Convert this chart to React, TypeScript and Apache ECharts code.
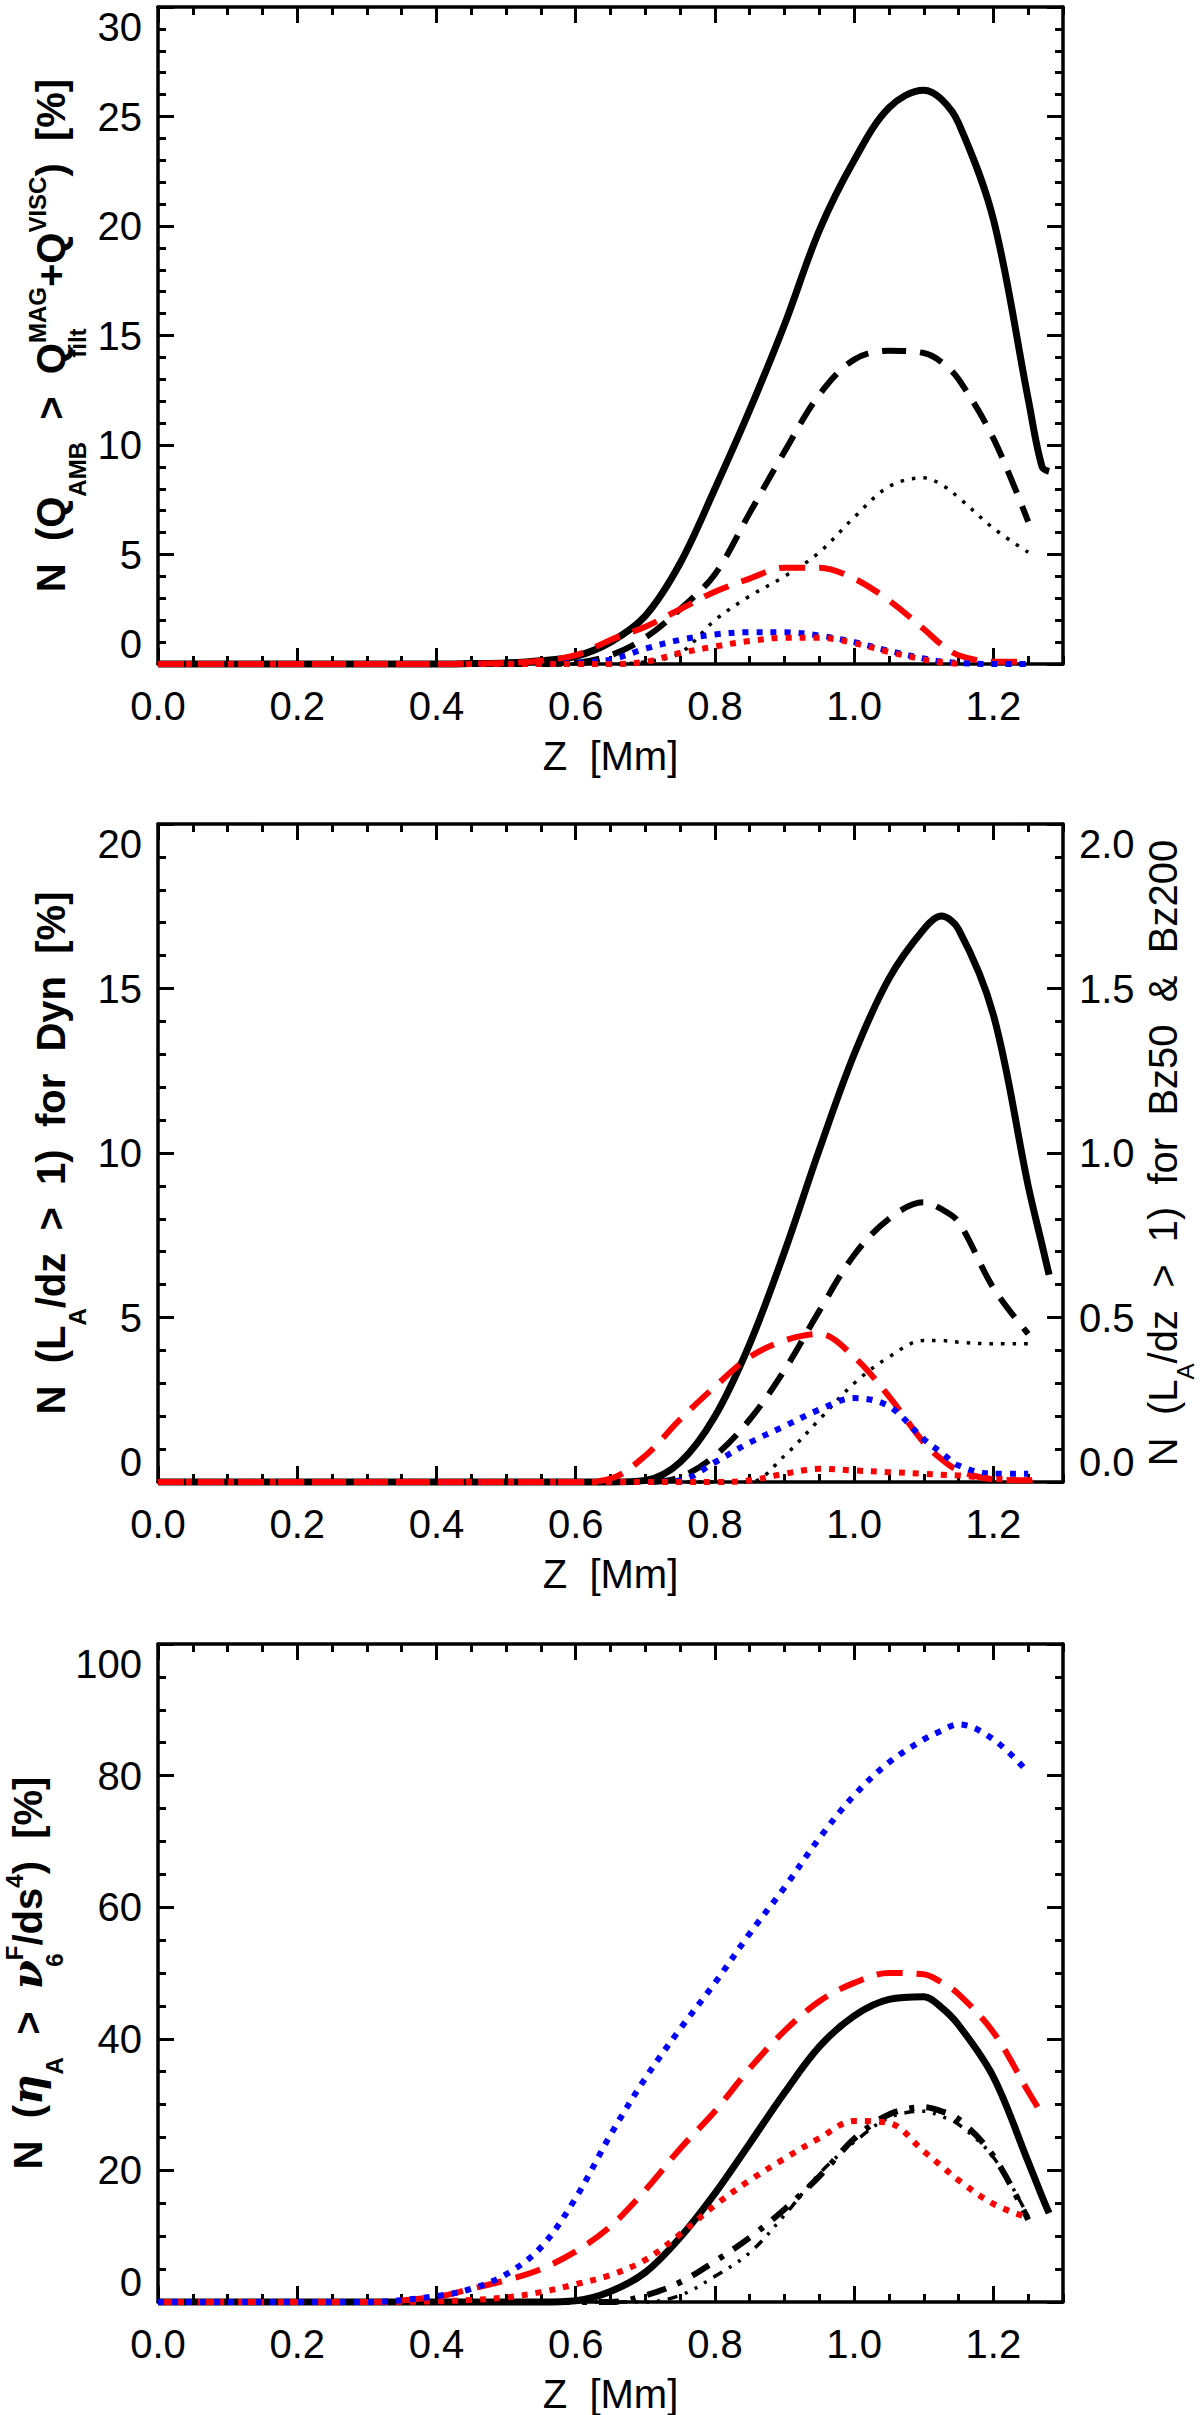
import React, { useEffect, useRef } from 'react';
import * as echarts from 'echarts';

// heights [Mm]
const Z = [0, 0.1, 0.2, 0.3, 0.4, 0.45, 0.5, 0.55, 0.6, 0.65, 0.7, 0.75, 0.8, 0.85, 0.9, 0.95, 1.0, 1.05, 1.1, 1.125, 1.15, 1.2, 1.25, 1.27, 1.28];

// panel 1: N(Q_AMB > Q_filt^MAG + Q^VISC) [%]
const P1_SOLID = [0, 0, 0, 0, 0, 0.02, 0.05, 0.15, 0.35, 1.0, 2.2, 4.6, 8.0, 11.6, 15.5, 19.8, 23.0, 25.4, 26.2, 25.8, 24.7, 20.3, 12.1, 9.0, 8.8];
const P1_DASH = [0, 0, 0, 0, 0, 0, 0, 0, 0.05, 0.4, 1.2, 2.5, 4.1, 6.9, 9.7, 12.3, 13.9, 14.3, 14.2, 13.8, 13.0, 10.3, 6.5, null, null];
const P1_DOT = [0, 0, 0, 0, 0, 0, 0, 0, 0, 0, 0.1, 0.5, 2.0, 3.1, 4.0, 5.1, 6.7, 8.1, 8.5, 8.2, 7.6, 6.2, 5.1, null, null];
const P1_RED_DASH = [0, 0, 0, 0, 0, 0.02, 0.05, 0.15, 0.4, 1.1, 1.7, 2.5, 3.3, 3.9, 4.4, 4.4, 3.9, 2.9, 1.6, 0.9, 0.4, 0.1, 0.1, null, null];
const P1_BLUE_DOT = [0, 0, 0, 0, 0, 0, 0, 0, 0.05, 0.2, 0.7, 1.1, 1.35, 1.45, 1.45, 1.3, 1.0, 0.6, 0.25, 0.12, 0.05, 0, 0, null, null];
const P1_RED_DOT = [0, 0, 0, 0, 0, 0, 0, 0, 0, 0, 0.1, 0.5, 0.8, 1.05, 1.2, 1.2, 0.95, 0.55, 0.2, 0.08, 0, null, null, null, null];

// panel 2: N(L_A/dz > 1), Dyn on the left axis, Bz50 & Bz200 on the right axis
const P2_SOLID = [0, 0, 0, 0, 0, 0, 0, 0, 0, 0, 0.05, 0.6, 2.0, 4.2, 7.0, 10.1, 13.0, 15.3, 16.8, 17.2, 16.8, 14.2, 9.0, 7.2, 6.3];
const P2_DASH = [0, 0, 0, 0, 0, 0, 0, 0, 0, 0, 0, 0.15, 0.8, 1.9, 3.4, 5.2, 6.9, 8.0, 8.5, 8.3, 7.9, 5.9, 4.5, null, null];
const P2_DOT = [0, 0, 0, 0, 0, 0, 0, 0, 0, 0, 0, 0, 0, 0, 0.8, 1.9, 3.0, 3.8, 4.3, 4.3, 4.25, 4.2, 4.2, null, null];
const P2_RED_DASH = [0, 0, 0, 0, 0, 0, 0, 0, 0, 0.01, 0.08, 0.19, 0.29, 0.38, 0.43, 0.45, 0.38, 0.26, 0.12, 0.07, 0.035, 0.008, 0.005, 0.015, null];
const P2_BLUE_DOT = [0, 0, 0, 0, 0, 0, 0, 0, 0, 0, 0, 0.005, 0.06, 0.12, 0.17, 0.22, 0.255, 0.23, 0.13, 0.09, 0.05, 0.025, 0.025, null, null];
const P2_RED_DOT = [0, 0, 0, 0, 0, 0, 0, 0, 0, 0, 0, 0, 0, 0.005, 0.025, 0.04, 0.035, 0.03, 0.025, 0.022, 0.02, 0.01, 0.005, null, null];

// panel 3: N(eta_A > nu_6^F/ds^4) [%]
const P3_BLUE_DOT = [0, 0, 0, 0, 0.9, 2.0, 4.2, 8.3, 15.8, 25.4, 34, 41.5, 48.5, 56, 63, 70.5, 77, 82, 85.5, 86.8, 87.8, 85.5, 80.5, null, null];
const P3_RED_DASH = [0, 0, 0, 0, 0.8, 2.0, 3.3, 5.0, 7.7, 11.5, 17.0, 23.3, 29, 35.5, 41.2, 45.7, 48.5, 50, 49.8, 48.6, 46.8, 41, 32, 28.5, null];
const P3_SOLID = [0, 0, 0, 0, 0, 0, 0, 0, 0.2, 1.6, 4.5, 9.8, 16.5, 24.1, 31.8, 38.8, 43.5, 46.0, 46.4, 44.8, 42.1, 34.2, 21.3, 16.0, 13.5];
const P3_RED_DOT = [0, 0, 0, 0, 0.1, 0.3, 0.7, 1.5, 2.7, 4.1, 6.4, 10.3, 14.7, 18.5, 21.8, 24.9, 27.5, 27.2, 22.9, 20.7, 18.5, 14.9, 12.8, null, null];
const P3_DASH_DOT = [0, 0, 0, 0, 0, 0, 0, 0, 0, 0, 1.0, 3.0, 6.2, 9.8, 14.1, 19.1, 24.8, 28.5, 29.6, 29.0, 27.8, 22.2, 12.5, null, null];
const P3_DASH_DOT3 = [0, 0, 0, 0, 0, 0, 0, 0, 0, 0, 0, 1.0, 3.9, 7.5, 13.2, 19.5, 24.3, 28.0, 29.0, 28.2, 27.0, 22.0, 13.0, null, null];

// axis ticks
const X_MAJOR = [0, 0.2, 0.4, 0.6, 0.8, 1.0, 1.2];
const Y1_MAJOR = [0, 5, 10, 15, 20, 25, 30];
const Y2_MAJOR = [0, 5, 10, 15, 20];
const Y2R_MAJOR = [0, 0.5, 1.0, 1.5, 2.0];
const Y3_MAJOR = [0, 20, 40, 60, 80, 100];

const FONT = '"Liberation Sans", Arial, Helvetica, sans-serif';
const S = '\u00a0\u00a0';
const RED = '#ff0000';
const BLUE = '#0000ff';

const steps = (from: number, to: number, step: number) => {
  const out: number[] = [];
  for (let i = 0; from + i * step <= to + 1e-9; i++) out.push(+(from + i * step).toFixed(4));
  return out;
};

const GRIDS = [
  { left: 158, top: 7, width: 905, height: 657 },
  { left: 158, top: 824, width: 905, height: 658 },
  { left: 158, top: 1644, width: 905, height: 658 },
];

// every token is top-aligned and pushed down by its padding, so sub/superscripts sit where they should
const tok = (size: number, weight: string, pad: number, extra: any = {}) => ({
  fontSize: size,
  fontWeight: weight,
  fontFamily: FONT,
  color: '#000',
  verticalAlign: 'top',
  padding: [pad, 0, 0, 0],
  ...extra,
});

const RICH_LEFT = {
  m: tok(40, 'bold', 8),
  sb: tok(24, 'bold', 42),
  sb0: tok(24, 'bold', 42, { width: 0 }),
  sp: tok(24, 'bold', 2),
  it: tok(42, 'bold', 6, { fontStyle: 'italic', fontFamily: '"DejaVu Serif", serif' }),
};
const RICH_RIGHT = {
  m: tok(40, 'normal', 8),
  sb: tok(24, 'normal', 38),
};

const TITLE1 = `{m|N${S}(Q}{sb|AMB}{m|${S}>${S}Q}{sb0|filt}{sp|MAG}{m|+Q}{sp|VISC}{m|)${S}[%]}`;
const TITLE2L = `{m|N${S}(L}{sb|A}{m|/dz${S}>${S}1)${S}for${S}Dyn${S}[%]}`;
const TITLE2R = `{m|N${S}(L}{sb|A}{m|/dz${S}>${S}1)${S}for${S}Bz50${S}&${S}Bz200}`;
const TITLE3 = `{m|N${S}(}{it|η}{sb|A}{m|${S}>${S}}{it|ν}{sb0|6}{sp|F}{m|/ds}{sp|4}{m|)${S}[%]}`;

const tickStyle = { color: '#000', width: 3 };
const lineAxis = { show: true, onZero: false, lineStyle: { color: '#000', width: 3.5 } };
const labelFont = { color: '#000', fontSize: 40, fontFamily: FONT };

const xAxesFor = (g: number) => {
  const base = { type: 'value', gridIndex: g, min: 0, max: 1.3, splitLine: { show: false } };
  const minor = steps(0, 1.3, 0.05);
  return [
    {
      ...base,
      position: 'bottom',
      axisLine: lineAxis,
      axisTick: { show: true, inside: true, length: 16, lineStyle: tickStyle, customValues: X_MAJOR },
      axisLabel: { show: true, margin: 22, customValues: X_MAJOR, formatter: (v: number) => v.toFixed(1), ...labelFont },
      name: 'Z\u00a0\u00a0[Mm]',
      nameLocation: 'middle',
      nameGap: 72,
      nameMoveOverlap: false,
      nameTextStyle: { ...labelFont },
    },
    { ...base, position: 'bottom', axisLine: { show: false, onZero: false }, axisTick: { show: true, inside: true, length: 8, lineStyle: tickStyle, customValues: minor }, axisLabel: { show: false } },
    { ...base, position: 'top', axisLine: lineAxis, axisTick: { show: true, inside: true, length: 16, lineStyle: tickStyle, customValues: X_MAJOR }, axisLabel: { show: false } },
    { ...base, position: 'top', axisLine: { show: false, onZero: false }, axisTick: { show: true, inside: true, length: 8, lineStyle: tickStyle, customValues: minor }, axisLabel: { show: false } },
  ];
};

const yPair = (g: number, pos: string, max: number, majors: number[], minorStep: number, label: any, name?: any) => {
  const base = { type: 'value', gridIndex: g, min: 0, max, position: pos, splitLine: { show: false } };
  const main: any = {
    ...base,
    axisLine: lineAxis,
    axisTick: { show: true, inside: true, length: 16, lineStyle: tickStyle, customValues: majors },
    axisLabel: label
      ? { show: true, margin: 16, customValues: majors, verticalAlignMinLabel: 'bottom', verticalAlignMaxLabel: 'top', ...labelFont, ...label }
      : { show: false },
  };
  if (name) Object.assign(main, name);
  return [
    main,
    { ...base, axisLine: { show: false, onZero: false }, axisTick: { show: true, inside: true, length: 8, lineStyle: tickStyle, customValues: steps(0, max, minorStep) }, axisLabel: { show: false } },
  ];
};

const yName = (text: string, rich: any, gap: number) => ({
  name: text,
  nameLocation: 'middle',
  nameRotate: 90,
  nameGap: gap,
  nameMoveOverlap: false,
  nameTextStyle: { rich },
});

const line = (data: (number | null)[], xi: number, yi: number, color: string, width: number, dash: any) => ({
  type: 'line',
  xAxisIndex: xi,
  yAxisIndex: yi,
  data: Z.map((z, i) => [z, data[i]]).filter((p) => p[1] !== null),
  symbol: 'none',
  showSymbol: false,
  smooth: 0.35,
  clip: false,
  silent: true,
  lineStyle: { color, width, type: dash, cap: 'butt', join: 'round' },
});

const SOLID = 'solid';
const DASH = [24, 14];
const THIN_DOT = [3.5, 8];
const RED_DASH = [26, 14];
const DOT = [6, 8];
const DASH_DOT = [20, 12, 5, 12];
const DASH_DOT3 = [10, 8, 3, 8, 3, 8, 3, 8];

const App: React.FC = () => {
  const chartRef = useRef<HTMLDivElement>(null);

  useEffect(() => {
    if (!chartRef.current) return;
    const instance = echarts.init(chartRef.current, undefined, { renderer: 'svg' });

    const intLabel = { formatter: (v: number) => String(v) };
    const xAxis = [...xAxesFor(0), ...xAxesFor(1), ...xAxesFor(2)];
    const yAxis = [
      ...yPair(0, 'left', 30, Y1_MAJOR, 1, intLabel, yName(TITLE1, RICH_LEFT, 69)),
      ...yPair(0, 'right', 30, Y1_MAJOR, 1, null),
      ...yPair(1, 'left', 20, Y2_MAJOR, 1, intLabel, yName(TITLE2L, RICH_LEFT, 69)),
      ...yPair(1, 'right', 2, Y2R_MAJOR, 0.1, { formatter: (v: number) => v.toFixed(1) }, yName(TITLE2R, RICH_RIGHT, 72)),
      ...yPair(2, 'left', 100, Y3_MAJOR, 5, intLabel, yName(TITLE3, RICH_LEFT, 92)),
      ...yPair(2, 'right', 100, Y3_MAJOR, 5, null),
    ];

    const series = [
      line(P1_SOLID, 0, 0, '#000', 7, SOLID),
      line(P1_DASH, 0, 0, '#000', 6, DASH),
      line(P1_DOT, 0, 0, '#000', 3.5, THIN_DOT),
      line(P1_RED_DASH, 0, 0, RED, 6, RED_DASH),
      line(P1_BLUE_DOT, 0, 0, BLUE, 6, DOT),
      line(P1_RED_DOT, 0, 0, RED, 6, DOT),

      line(P2_SOLID, 4, 4, '#000', 7, SOLID),
      line(P2_DASH, 4, 4, '#000', 6, DASH),
      line(P2_DOT, 4, 4, '#000', 3.5, THIN_DOT),
      line(P2_RED_DASH, 4, 6, RED, 6, RED_DASH),
      line(P2_BLUE_DOT, 4, 6, BLUE, 6, DOT),
      line(P2_RED_DOT, 4, 6, RED, 6, DOT),

      line(P3_SOLID, 8, 8, '#000', 7, SOLID),
      line(P3_DASH_DOT, 8, 8, '#000', 6, DASH_DOT),
      line(P3_DASH_DOT3, 8, 8, '#000', 3.5, DASH_DOT3),
      line(P3_RED_DASH, 8, 8, RED, 6, RED_DASH),
      line(P3_RED_DOT, 8, 8, RED, 6, DOT),
      line(P3_BLUE_DOT, 8, 8, BLUE, 6, DOT),
    ];

    instance.setOption({
      animation: false,
      backgroundColor: '#fff',
      grid: GRIDS.map((g) => ({ ...g, containLabel: false, outerBoundsMode: 'none' })),
      xAxis,
      yAxis,
      series,
    } as any);

    return () => {
      instance.dispose();
    };
  }, []);

  return (
    <div
      ref={chartRef}
      style={{ position: 'absolute', left: 0, top: 0, width: 1200, height: 2415, background: '#fff' }}
    />
  );
};

export default App;
